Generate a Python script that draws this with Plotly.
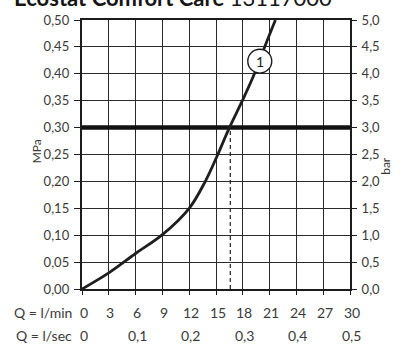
import plotly.graph_objects as go

# Flow rate (l/min) versus pressure (MPa) for the thermostat
flow_lpm = [0, 3, 6, 9, 12, 13.8, 15.2, 16.5, 17.95, 19.3, 20.45, 21.65]
pressure_mpa = [0, 0.03, 0.066, 0.101, 0.15, 0.20, 0.25, 0.30, 0.35, 0.40, 0.45, 0.50]

ref_pressure = 0.30
ref_flow = 16.6

# Axis tick labels
lpm_ticks = [0, 3, 6, 9, 12, 15, 18, 21, 24, 27, 30]
lps_ticks = [0, 6, 12, 18, 24, 30]
lps_labels = ["0", "0,1", "0,2", "0,3", "0,4", "0,5"]

# Curve marker
marker_flow, marker_pressure, marker_label = 19.9, 0.4234, "1"

FONT = "Lato"
INK = "#1c1c1c"
TXT = "#3a3a3a"

fig = go.Figure()

fig.add_trace(go.Scatter(
    x=[0, 30], y=[ref_pressure, ref_pressure], mode="lines",
    line=dict(color="#111111", width=4.5), hoverinfo="skip", showlegend=False))
fig.add_trace(go.Scatter(
    x=[ref_flow, ref_flow], y=[0, ref_pressure], mode="lines",
    line=dict(color="#222222", width=1.2, dash="4px,3px"), hoverinfo="skip", showlegend=False))
fig.add_trace(go.Scatter(
    x=flow_lpm, y=pressure_mpa, mode="lines",
    line=dict(color="#1e1e1e", width=2.8, shape="spline", smoothing=1.0),
    showlegend=False))
# invisible trace to carry the bar axis
fig.add_trace(go.Scatter(x=[0, 30], y=[0, 5], yaxis="y2", mode="lines",
                         line=dict(width=0), hoverinfo="skip", showlegend=False))

# Circle marker around the curve label
rx, ry = 1.34, 0.0221
fig.add_shape(type="circle", xref="x", yref="y",
              x0=marker_flow - rx, x1=marker_flow + rx,
              y0=marker_pressure - ry, y1=marker_pressure + ry,
              fillcolor="white", line=dict(color=INK, width=1.4), layer="above")
fig.add_annotation(x=marker_flow, y=marker_pressure, text=marker_label, showarrow=False,
                   font=dict(family=FONT, size=14, color=INK))

# Bottom rows of flow labels
for v in lpm_ticks:
    fig.add_annotation(x=v, y=0, xref="x", yref="paper", text=str(v), showarrow=False,
                       yanchor="middle", yshift=-23, xshift=1.5,
                       font=dict(family=FONT, size=14, color=TXT))
for v, t in zip(lps_ticks, lps_labels):
    fig.add_annotation(x=v, y=0, xref="x", yref="paper", text=t, showarrow=False,
                       yanchor="middle", yshift=-46, xshift=1.5,
                       font=dict(family=FONT, size=14, color=TXT))
for row, shift in (("Q = l/min", -23), ("Q = l/sec", -46)):
    fig.add_annotation(x=0, y=0, xref="paper", yref="paper", text=row, showarrow=False,
                       xanchor="right", yanchor="middle", xshift=-8, yshift=shift,
                       font=dict(family=FONT, size=14, color=TXT))

# Axis unit labels
fig.add_annotation(x=0, y=0.51, xref="paper", yref="paper", text="MPa", showarrow=False,
                   textangle=-90, xshift=-55, font=dict(family=FONT, size=12, color=TXT))
fig.add_annotation(x=1, y=0.456, xref="paper", yref="paper", text="bar", showarrow=False,
                   textangle=-90, xshift=45, font=dict(family=FONT, size=12, color=TXT))

# Title
fig.add_annotation(x=0, y=1, xref="paper", yref="paper",
                   text="<b>Ecostat Comfort Care</b> 13117000", showarrow=False,
                   xanchor="left", yanchor="bottom", xshift=-70, yshift=7,
                   font=dict(family=FONT, size=22, color="#151515"))

grid = dict(showgrid=True, gridcolor="#2a2a2a", gridwidth=1.3, zeroline=False)
fig.update_layout(
    width=412, height=345,
    margin=dict(l=82, r=62, t=17, b=56),
    paper_bgcolor="white", plot_bgcolor="white",
    separators=",.",
    font=dict(family=FONT, size=13, color=TXT),
    xaxis=dict(range=[0, 30], tickvals=lpm_ticks, showticklabels=False,
               ticks="outside", ticklen=4, tickcolor=INK,
               showline=True, linecolor=INK, linewidth=2.4, mirror=True, **grid),
    yaxis=dict(range=[0, 0.5], dtick=0.05, tickformat=".2f",
               ticks="outside", ticklen=6, tickcolor=INK, tickwidth=1.3,
               ticklabelstandoff=2,
               showline=True, linecolor=INK, linewidth=2.4, mirror=True,
               tickfont=dict(family=FONT, size=13, color=TXT), **grid),
    yaxis2=dict(range=[0, 5], dtick=0.5, tickformat=".1f", overlaying="y", side="right",
                ticks="outside", ticklen=6, tickcolor=INK, tickwidth=1.3,
                ticklabelstandoff=2,
                showgrid=False, zeroline=False, showline=False,
                tickfont=dict(family=FONT, size=13, color=TXT)),
)

fig.write_html("out.html")
